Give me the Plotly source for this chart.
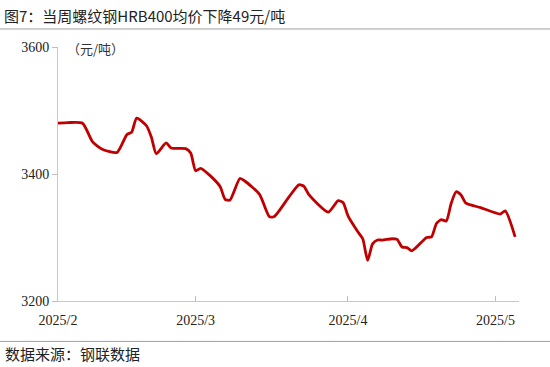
import plotly.graph_objects as go

dates = ["2025-02-01", "2025-02-03", "2025-02-06", "2025-02-08", "2025-02-10", "2025-02-13",
         "2025-02-15", "2025-02-16", "2025-02-17", "2025-02-19", "2025-02-20", "2025-02-21",
         "2025-02-23", "2025-02-24", "2025-02-27", "2025-02-28", "2025-03-01", "2025-03-02",
         "2025-03-04", "2025-03-06", "2025-03-07", "2025-03-08", "2025-03-10", "2025-03-11",
         "2025-03-14", "2025-03-16", "2025-03-17", "2025-03-20", "2025-03-22", "2025-03-23",
         "2025-03-24", "2025-03-28", "2025-03-30", "2025-03-31", "2025-04-01", "2025-04-03",
         "2025-04-04", "2025-04-05", "2025-04-06", "2025-04-07", "2025-04-08", "2025-04-10",
         "2025-04-11", "2025-04-12", "2025-04-13", "2025-04-14", "2025-04-17", "2025-04-18",
         "2025-04-19", "2025-04-20", "2025-04-21", "2025-04-22", "2025-04-23", "2025-04-24",
         "2025-04-25", "2025-04-28", "2025-05-02", "2025-05-03", "2025-05-05"]
prices = [3480, 3481, 3480, 3451, 3439, 3434,
          3462, 3466, 3488, 3476, 3458, 3432,
          3449, 3441, 3440, 3433, 3405, 3409,
          3397, 3380, 3360, 3359, 3393, 3389,
          3368, 3333, 3333, 3364, 3383, 3381,
          3368, 3340, 3358, 3355, 3334, 3309,
          3298, 3264, 3290, 3296, 3296, 3298,
          3297, 3285, 3284, 3279, 3300, 3301,
          3322, 3328, 3326, 3354, 3372, 3367,
          3354, 3347, 3337, 3342, 3301]

tick_dates = ["2025-02-01", "2025-03-01", "2025-04-01", "2025-05-01"]
tick_labels = ["2025/2", "2025/3", "2025/4", "2025/5"]
y_ticks = [3200, 3400, 3600]

title_text = "图7：当周螺纹钢HRB400均价下降49元/吨"
unit_text = "（元/吨）"
source_text = "数据来源：钢联数据"

fig = go.Figure()
fig.add_trace(go.Scatter(x=dates, y=prices, mode="lines",
                         line=dict(color="#C00000", width=2.8, shape="spline", smoothing=0.6),
                         hoverinfo="skip", showlegend=False))

W, H = 550, 367
L, R, T, B = 58.3, 519, 47.3, 300.7
pw, ph = R - L, B - T

def px(x):
    return (x - L) / pw

def py(y):
    return (B - y) / ph

serif = "Liberation Serif, Times New Roman, serif"
cjk = "Noto Sans CJK SC, sans-serif"

fig.update_layout(
    width=W, height=H,
    margin=dict(l=L, r=W - R, t=T, b=H - B, pad=0),
    paper_bgcolor="white", plot_bgcolor="white",
    xaxis=dict(type="date", range=["2025-02-01", "2025-05-05 19:00"],
               tickvals=tick_dates, ticktext=tick_labels,
               ticks="inside", ticklen=5, tickcolor="#bdbdbd",
               showline=True, linecolor="#c8c8c8", linewidth=1,
               showgrid=False, zeroline=False, ticklabelstandoff=6,
               tickfont=dict(family=serif, size=14, color="#222")),
    yaxis=dict(range=[3200, 3600], tickvals=y_ticks,
               ticks="outside", ticklen=5, tickcolor="#bdbdbd",
               showline=True, linecolor="#c8c8c8", linewidth=1,
               showgrid=False, zeroline=False,
               tickfont=dict(family=serif, size=14, color="#222")),
    annotations=[
        dict(text=title_text, x=px(2), y=py(16), xref="paper", yref="paper",
             xanchor="left", yanchor="middle", showarrow=False,
             font=dict(family=cjk, size=15, color="#222")),
        dict(text=unit_text, x=px(65), y=py(49), xref="paper", yref="paper",
             xanchor="left", yanchor="middle", showarrow=False,
             font=dict(family=cjk, size=13, color="#333")),
        dict(text=source_text, x=px(3), y=py(353), xref="paper", yref="paper",
             xanchor="left", yanchor="middle", showarrow=False,
             font=dict(family=cjk, size=15, color="#222")),
    ],
    shapes=[
        dict(type="line", xref="paper", yref="paper", x0=px(0), x1=px(W),
             y0=py(29.3), y1=py(29.3), line=dict(color="#a0a0a0", width=1)),
        dict(type="line", xref="paper", yref="paper", x0=px(0), x1=px(W),
             y0=py(341), y1=py(341), line=dict(color="#a0a0a0", width=1)),
    ],
)

fig.write_html("out.html", config={"displayModeBar": False},
               post_script="document.body.style.margin='0';document.body.style.padding='0';")
